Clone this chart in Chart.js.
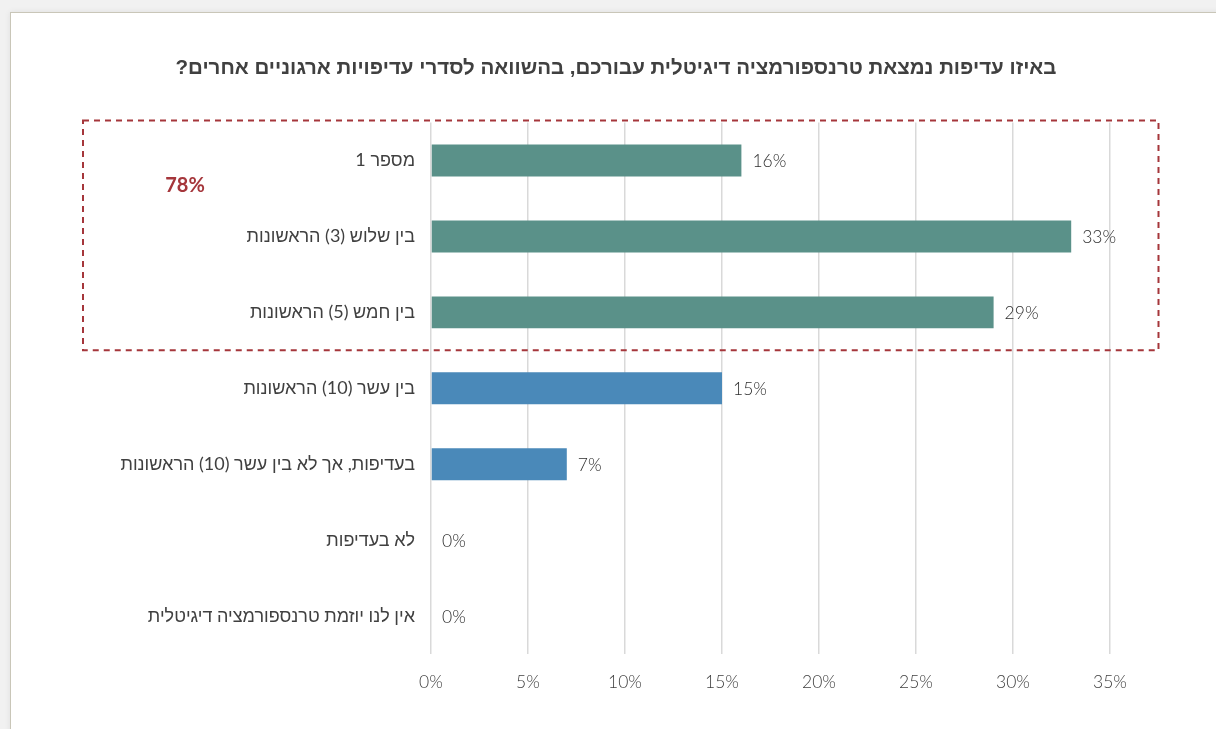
<!DOCTYPE html>
<html lang="he">
<head>
<meta charset="utf-8">
<script src="https://cdn.jsdelivr.net/npm/chart.js@4.4.1/dist/chart.umd.min.js"></script>
<style>
    html, body { margin: 0; padding: 0; width: 1216px; height: 729px; overflow: hidden; background: #f1f1f1; }
    #tarjeta {
        position: absolute; left: 10px; top: 12px; width: 1240px; height: 760px;
        background: #fff; border: 1px solid #c9c6b8;
        box-shadow: 0 0 6px rgba(0,0,0,0.08);
    }
    #wrap { position: absolute; left: 0; top: 0; width: 1216px; height: 729px; }
    #grafico { width: 1216px; height: 729px; }
</style>
</head>
<body>
<div id="tarjeta"></div>
<div id="wrap"><canvas id="grafico" dir="rtl" width="1216" height="729"></canvas></div>
<script>
// Datos del gráfico
const titulo = 'באיזו עדיפות נמצאת טרנספורמציה דיגיטלית עבורכם, בהשוואה לסדרי עדיפויות ארגוניים אחרים?';
const categorias = [
    'מספר 1',
    'בין שלוש (3) הראשונות',
    'בין חמש (5) הראשונות',
    'בין עשר (10) הראשונות',
    'בעדיפות, אך לא בין עשר (10) הראשונות',
    'לא בעדיפות',
    'אין לנו יוזמת טרנספורמציה דיגיטלית'
];
const valores = [16, 33, 29, 15, 7, 0, 0];
const ticksX = [0, 5, 10, 15, 20, 25, 30, 35];
const filasDestacadas = 3; // las tres primeras van dentro del recuadro

const TEAL = '#5a9189';
const AZUL = '#4a89b9';
const ROJO = '#a5363b';
const FUENTE = 'Lato, "Liberation Sans", "DejaVu Sans", sans-serif';

const colores = valores.map((v, i) => i < filasDestacadas ? TEAL : AZUL);

// Etiquetas de valor + recuadro punteado con el total
const pluginMarcas = {
    id: 'marcas',
    afterLayout(chart) {
        // el título se centra en todo el ancho, no solo en el área con padding
        const t = chart.titleBlock;
        if (t) {
            t.left = 16;
            t.right = chart.width;
            t.width = t.right - t.left;
        }
    },
    afterDatasetsDraw(chart) {
        const ctx = chart.ctx;
        const meta = chart.getDatasetMeta(0);
        const sx = chart.scales.x;
        const sy = chart.scales.y;

        ctx.save();
        ctx.font = '300 17.5px ' + FUENTE;
        ctx.fillStyle = '#2e2e2e';
        ctx.textAlign = 'left';
        ctx.textBaseline = 'middle';
        meta.data.forEach((bar, i) => {
            ctx.fillText(valores[i] + '%', bar.x + 11, bar.y + 1);
        });

        // recuadro
        const paso = sy.getPixelForValue(1) - sy.getPixelForValue(0);
        const arriba = sy.getPixelForValue(0) - paso / 2 - 2;
        const abajo = sy.getPixelForValue(filasDestacadas - 1) + paso / 2;
        const izq = chart.chartArea.left - 348;
        const der = sx.getPixelForValue(37.5);
        ctx.strokeStyle = ROJO;
        ctx.lineWidth = 2;
        ctx.setLineDash([6, 5]);
        ctx.strokeRect(izq, arriba, der - izq, abajo - arriba);

        const total = valores.slice(0, filasDestacadas).reduce((a, b) => a + b, 0);
        ctx.setLineDash([]);
        ctx.font = 'bold 20px ' + FUENTE;
        ctx.fillStyle = ROJO;
        ctx.textAlign = 'center';
        ctx.fillText(total + '%', izq + 102, sy.getPixelForValue(0) + 25);
        ctx.restore();
    }
};

new Chart(document.getElementById('grafico'), {
    type: 'bar',
    data: {
        labels: categorias,
        datasets: [{
            data: valores,
            backgroundColor: colores,
            borderWidth: 0,
            categoryPercentage: 1,
            barPercentage: 0.42
        }]
    },
    options: {
        indexAxis: 'y',
        responsive: false,
        animation: false,
        maintainAspectRatio: false,
        devicePixelRatio: 1,
        layout: { padding: { left: 0, right: 106, top: 0, bottom: 0 } },
        plugins: {
            legend: { display: false },
            tooltip: { enabled: false },
            title: {
                display: true,
                text: titulo,
                color: '#404040',
                font: { family: '"Liberation Sans", Arial, sans-serif', size: 20.5, weight: 'bold' },
                padding: { top: 56, bottom: 42 }
            }
        },
        scales: {
            x: {
                min: 0,
                max: 35,
                afterBuildTicks(scale) {
                    scale.ticks = ticksX.map(v => ({ value: v }));
                },
                afterFit(scale) { scale.height = 75; },
                grid: { color: '#d9d9d9', lineWidth: 1.5, drawTicks: false },
                border: { display: false },
                ticks: {
                    padding: 18,
                    color: '#3f3f3f',
                    font: { family: FUENTE, size: 17.5, weight: 300 },
                    callback: v => v + '%'
                }
            },
            y: {
                afterFit(scale) { scale.width = 431; },
                grid: { display: false, drawTicks: false },
                border: { display: false },
                ticks: {
                    padding: 16,
                    color: '#404040',
                    font: { family: FUENTE, size: 18 }
                }
            }
        }
    },
    plugins: [pluginMarcas]
});
</script>
</body>
</html>
